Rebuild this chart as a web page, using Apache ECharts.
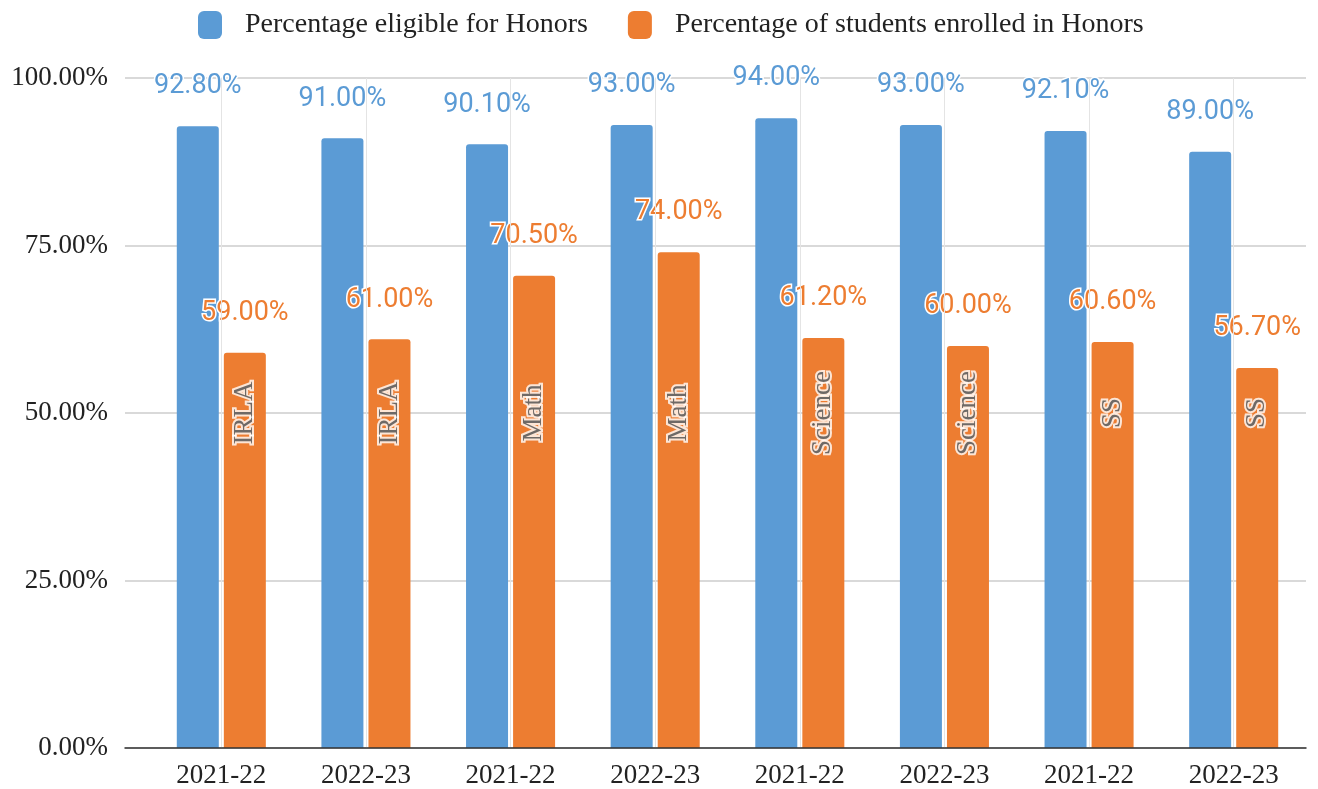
<!DOCTYPE html>
<html style="height: 100%">
<head>
  <meta charset="utf-8">
  <script src="https://cdn.jsdelivr.net/npm/echarts@6/dist/echarts.min.js"></script>
</head>
<body style="height: 100%; margin: 0; background: #fff">
<div id="container" style="width: 1318px; height: 789px"></div>
<script>
// chart data
var years = ['2021-22', '2022-23', '2021-22', '2022-23', '2021-22', '2022-23', '2021-22', '2022-23'];
var subjects = ['IRLA', 'IRLA', 'Math', 'Math', 'Science', 'Science', 'SS', 'SS'];
var eligible = [92.8, 91.0, 90.1, 93.0, 94.0, 93.0, 92.1, 89.0];
var enrolled = [59.0, 61.0, 70.5, 74.0, 61.2, 60.0, 60.6, 56.7];
var yTicks = [0, 25, 50, 75, 100];

var blue = '#5b9bd5';
var orange = '#ed7d31';
var serif = '"Liberation Serif", "DejaVu Serif", serif';
var sans = 'Roboto, "Noto Sans", sans-serif';

function pct(v) { return v.toFixed(2) + '%'; }

var chart = echarts.init(document.getElementById('container'));

// subject names sit at the 50% level inside the orange bars
var subjectLevel = 50;

var option = {
  animation: false,
  legend: {
    data: ['Percentage eligible for Honors', 'Percentage of students enrolled in Honors'],
    top: 6,
    left: 193,
    icon: 'roundRect',
    itemWidth: 24,
    itemHeight: 28,
    itemGap: 40,
    textStyle: { fontFamily: serif, fontSize: 28, color: '#222', padding: [0, 0, 0, 18] }
  },
  // grid 0 holds the bars, grid 1 only draws the wider horizontal gridlines
  grid: [
    { left: 149, right: 12, top: 78, bottom: 41 },
    { left: 125, right: 12, top: 78, bottom: 41 }
  ],
  xAxis: [
    {
      type: 'category',
      data: years,
      axisTick: { show: false },
      axisLine: { show: false },
      axisLabel: { fontFamily: serif, fontSize: 27, color: '#222', margin: 14 },
      splitLine: { show: true, alignWithLabel: true, lineStyle: { color: '#e4e4e4' } },
      z: 3
    },
    {
      type: 'value', gridIndex: 1, min: 0, max: 1,
      axisTick: { show: false },
      axisLabel: { show: false },
      splitLine: { show: false },
      axisLine: { show: true, onZero: false, lineStyle: { color: '#333', width: 1.5 } },
      z: 4
    }
  ],
  yAxis: [
    {
      type: 'value',
      min: yTicks[0],
      max: yTicks[yTicks.length - 1],
      interval: yTicks[1] - yTicks[0],
      axisLine: { show: false },
      axisTick: { show: false },
      axisLabel: {
        fontFamily: serif, fontSize: 27, color: '#222', margin: 41,
        formatter: function (v) { return pct(v); }
      },
      splitLine: { show: false }
    },
    {
      type: 'value', gridIndex: 1,
      min: yTicks[0],
      max: yTicks[yTicks.length - 1],
      interval: yTicks[1] - yTicks[0],
      axisLine: { show: false },
      axisTick: { show: false },
      axisLabel: { show: false },
      splitLine: { lineStyle: { color: '#cccccc', width: 1.5 } },
      z: 0
    }
  ],
  series: [
    {
      name: 'Percentage eligible for Honors',
      type: 'bar',
      data: eligible,
      barWidth: 42,
      barGap: '12%',
      itemStyle: { color: blue, borderRadius: [3, 3, 0, 0] },
      label: {
        show: true, position: 'top', distance: 26,
        fontFamily: sans, fontSize: 27, color: blue,
        textBorderColor: '#fff', textBorderWidth: 3,
        formatter: function (p) { return pct(p.value); }
      }
    },
    {
      name: 'Percentage of students enrolled in Honors',
      type: 'bar',
      data: enrolled,
      barWidth: 42,
      itemStyle: { color: orange, borderRadius: [3, 3, 0, 0] },
      label: {
        show: true, position: 'top', distance: 26,
        fontFamily: sans, fontSize: 27, color: orange,
        textBorderColor: '#fff', textBorderWidth: 3,
        formatter: function (p) { return pct(p.value); }
      }
    },
    {
      name: 'subjects',
      type: 'scatter',
      symbolSize: 0,
      silent: true,
      data: subjects.map(function (s) { return { value: subjectLevel, name: s }; }),
      label: {
        show: true, position: 'inside', rotate: 90, offset: [0, 23.5],
        fontFamily: serif, fontSize: 27, color: '#4a4a4a',
        textBorderColor: '#fff', textBorderWidth: 4,
        formatter: function (p) { return p.name; }
      },
      z: 5
    }
  ]
};

chart.setOption(option);
</script>
</body>
</html>
